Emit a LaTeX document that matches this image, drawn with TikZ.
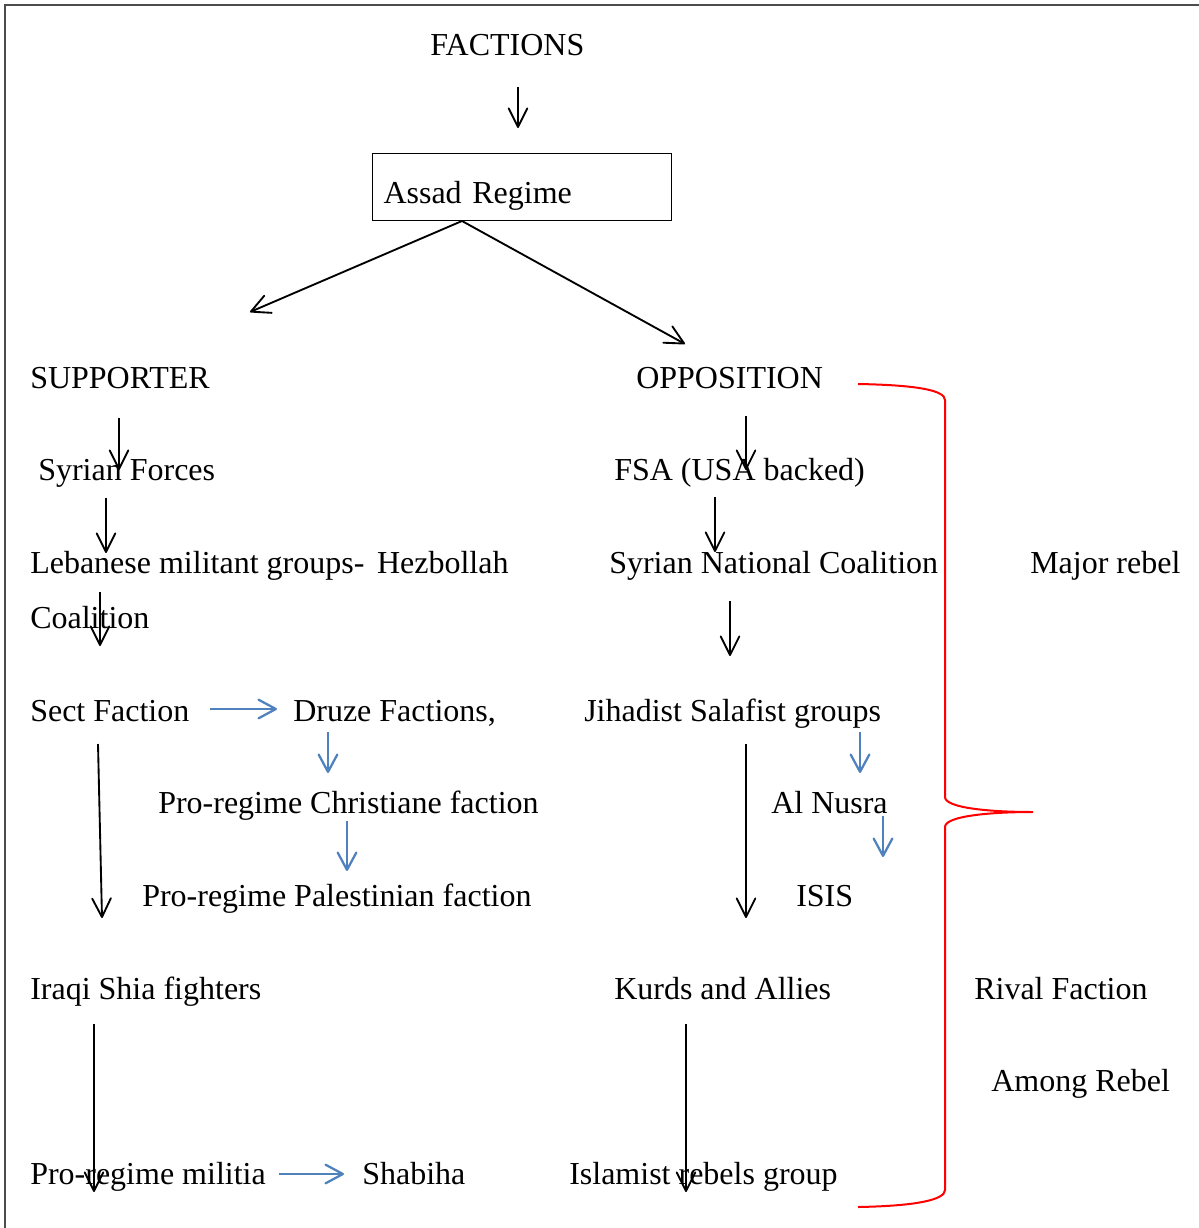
\documentclass[tikz,border=0pt]{standalone}
\usepackage{fontspec}
\setmainfont{Liberation Serif}
\usetikzlibrary{arrows.meta}

\definecolor{arrowblue}{RGB}{79,129,189}

\tikzset{
  lbl/.style={anchor=base west, inner sep=0pt, font=\fontsize{24}{28}\selectfont},
  blk/.style={draw=black, line width=1.4pt, -{Straight Barb[length=14pt,width=14pt,line cap=round,line join=round]}},
  blu/.style={draw=arrowblue, line width=1.7pt, -{Straight Barb[length=13pt,width=14pt,line cap=round,line join=round]}},
  brace/.style={draw=red, line width=1.5pt},
}

\begin{document}
\begin{tikzpicture}[x=0.75pt, y=-0.75pt]

\useasboundingbox (0,0) rectangle (1199,1228);
\draw[gray!60!black, line width=1.1pt] (1199,5) -- (5,5) -- (5,1228);

% top of the tree
\node[lbl] (facts) at (430,55) {FACTIONS};
\node[draw, line width=0.8pt, anchor=north west, minimum width=224.25pt, minimum height=50.25pt,
      text width=207.75pt, inner xsep=8.25pt, inner ysep=0pt, align=left,
      text height=24.75pt, text depth=0pt, font=\fontsize{24}{28}\selectfont]
      (assad) at (372,153) {Assad Regime};

\begin{scope}[lbl]
  \node (supp)  at (30,388)  {SUPPORTER};
  \node (syrf)  at (38,480)  {Syrian Forces};
  \node (leb)   at (30,573)  {Lebanese militant groups-\hspace{9.5pt}Hezbollah};
  \node (coal)  at (30,628)  {Coalition};
  \node (sect)  at (30,721)  {Sect Faction};
  \node (druze) at (293,721) {Druze Factions,};
  \node (chris) at (158,813) {Pro-regime Christiane faction};
  \node (pal)   at (142,906) {Pro-regime Palestinian faction};
  \node (iraqi) at (30,999)  {Iraqi Shia fighters};
  \node (mil)   at (30,1184) {Pro-regime militia};
  \node (shab)  at (362,1184) {Shabiha};
\end{scope}

\begin{scope}[lbl]
  \node (opp)   at (636,388) {OPPOSITION};
  \node (fsa)   at (614,480) {FSA (USA backed)};
  \node (snc)   at (609,573) {Syrian National Coalition};
  \node (jihad) at (584,721) {Jihadist Salafist groups};
  \node (nusra) at (771,813) {Al Nusra};
  \node (isis)  at (796,906) {ISIS};
  \node (kurds) at (614,999) {Kurds and Allies};
  \node (isl)   at (569,1184) {Islamist rebels group};
\end{scope}

\begin{scope}[lbl]
  \node (major) at (1030,573) {Major rebel};
  \node (rival) at (974,999)  {Rival Faction};
  \node (among) at (991,1091) {Among Rebel};
\end{scope}

% arrow ends
\coordinate (f0) at (518,87);   \coordinate (f1) at (518,128);
\coordinate (r0) at (462,221);
\coordinate (sp) at (250,312);  \coordinate (op) at (685,344);
\coordinate (s1a) at (119,418); \coordinate (s1b) at (119,470);
\coordinate (s2a) at (106,498); \coordinate (s2b) at (106,553);
\coordinate (s3a) at (100,592); \coordinate (s3b) at (100,646);
\coordinate (s4a) at (98,744);  \coordinate (s4b) at (102,918);
\coordinate (s5a) at (94,1024); \coordinate (s5b) at (94,1192);
\coordinate (o1a) at (746,416); \coordinate (o1b) at (746,470);
\coordinate (o2a) at (715,497); \coordinate (o2b) at (715,552);
\coordinate (o3a) at (730,601); \coordinate (o3b) at (730,656);
\coordinate (o4a) at (746,744); \coordinate (o4b) at (746,918);
\coordinate (o5a) at (686,1024); \coordinate (o5b) at (686,1192);
\coordinate (b1a) at (210,709); \coordinate (b1b) at (277,709);
\coordinate (b2a) at (328,732); \coordinate (b2b) at (328,773);
\coordinate (b3a) at (347,821); \coordinate (b3b) at (347,871);
\coordinate (b4a) at (860,732); \coordinate (b4b) at (860,773);
\coordinate (b5a) at (883,816); \coordinate (b5b) at (883,857);
\coordinate (b6a) at (279,1174); \coordinate (b6b) at (344,1174);

\draw[blk] (f0) -- (f1);
\draw[blk] (r0) -- (sp);
\draw[blk] (r0) -- (op);

\draw[blk] (s1a) -- (s1b);
\draw[blk] (s2a) -- (s2b);
\draw[blk] (s3a) -- (s3b);
\draw[blk] (s4a) -- (s4b);
\draw[blk] (s5a) -- (s5b);

\draw[blk] (o1a) -- (o1b);
\draw[blk] (o2a) -- (o2b);
\draw[blk] (o3a) -- (o3b);
\draw[blk] (o4a) -- (o4b);
\draw[blk] (o5a) -- (o5b);

\draw[blu] (b1a) -- (b1b);
\draw[blu] (b2a) -- (b2b);
\draw[blu] (b3a) -- (b3b);
\draw[blu] (b4a) -- (b4b);
\draw[blu] (b5a) -- (b5b);
\draw[blu] (b6a) -- (b6b);

% the red brace
\draw[brace] (858,384) .. controls (915,385) and (945,390) .. (945,400) -- (945,797)
  .. controls (945,808) and (990,812) .. (1033,812)
  .. controls (990,812) and (945,816) .. (945,827) -- (945,1190)
  .. controls (945,1200) and (915,1206) .. (858,1207);

\end{tikzpicture}
\end{document}
